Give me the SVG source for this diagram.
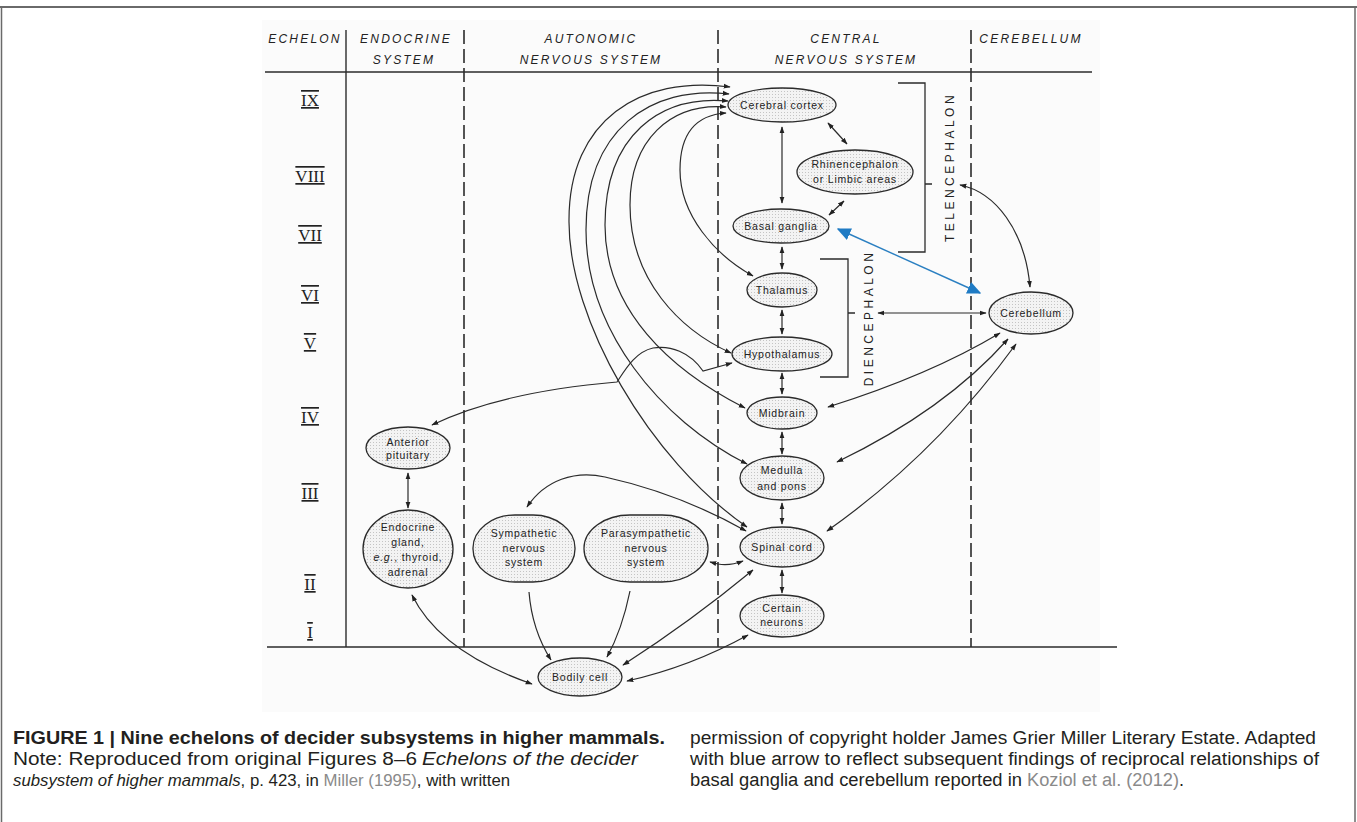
<svg xmlns="http://www.w3.org/2000/svg" width="1357" height="822" viewBox="0 0 1357 822">
<style>
.hd{font-family:"Liberation Sans",Arial,sans-serif;font-style:italic;font-size:12px;letter-spacing:2.2px;fill:#222;text-anchor:middle}
.rn{font-family:"Liberation Serif","Times New Roman",serif;font-size:17px;fill:#222;text-anchor:middle;text-decoration:underline overline}
.n{font-family:"Liberation Sans",Arial,sans-serif;font-size:10.5px;letter-spacing:0.8px;fill:#222;text-anchor:middle}
.sh{fill:url(#dots);stroke:#2b2b2b;stroke-width:1.3}
.c{fill:none;stroke:#2b2b2b;stroke-width:1.2}
.ln{fill:none;stroke:#2b2b2b;stroke-width:1.4}
.dash{fill:none;stroke:#2b2b2b;stroke-width:1.6;stroke-dasharray:14 5}
.br{fill:none;stroke:#2b2b2b;stroke-width:1.3}
.vt{font-family:"Liberation Sans",Arial,sans-serif;font-size:12px;letter-spacing:3.5px;fill:#222;text-anchor:middle}
.cap{font-family:"Liberation Sans",Arial,sans-serif;font-size:18px;fill:#231f20}
.cap3{font-family:"Liberation Sans",Arial,sans-serif;font-size:16.8px;fill:#231f20}
.it{font-style:italic}
.lk{fill:#8a8a8a}
</style>
<defs>
<pattern id="dots" width="3" height="3" patternUnits="userSpaceOnUse"><rect width="3" height="3" fill="#f3f3f3"/><rect x="1" y="1" width="1" height="1" fill="#c4c4c4"/></pattern>
<marker id="ah" viewBox="0 0 10 10" refX="9" refY="5" markerWidth="7" markerHeight="7" orient="auto-start-reverse" markerUnits="userSpaceOnUse"><path d="M0,1.5 L10,5 L0,8.5 z" fill="#222"/></marker>
<marker id="bh" viewBox="0 0 10 10" refX="9" refY="5" markerWidth="14" markerHeight="14" orient="auto-start-reverse" markerUnits="userSpaceOnUse"><path d="M0,0.5 L10,5 L0,9.5 z" fill="#1f7bc4"/></marker>
</defs>
<rect width="1357" height="822" fill="#fff"/>
<rect x="262" y="20" width="838" height="692" fill="#fbfbfb"/>
<g id="frame">
<line x1="0" y1="7" x2="1357" y2="7" stroke="#6a6a6a" stroke-width="2"/>
<line x1="1.5" y1="7" x2="1.5" y2="822" stroke="#6a6a6a" stroke-width="1.5"/>
<line x1="1355" y1="7" x2="1355" y2="822" stroke="#6a6a6a" stroke-width="1.5"/>
</g>
<g id="grid">
<line x1="265" y1="72" x2="1092" y2="72" class="ln"/>
<line x1="267" y1="647" x2="1117" y2="647" class="ln"/>
<line x1="346" y1="30" x2="346" y2="647" class="ln"/>
<line x1="464" y1="30" x2="464" y2="647" class="dash"/>
<line x1="718" y1="30" x2="718" y2="647" class="dash"/>
<line x1="971" y1="30" x2="971" y2="647" class="dash"/>
</g>
<g id="headers">
<text class="hd" x="305" y="43">ECHELON</text>
<text class="hd" x="406" y="43">ENDOCRINE</text>
<text class="hd" x="404" y="64">SYSTEM</text>
<text class="hd" x="591" y="43">AUTONOMIC</text>
<text class="hd" x="591" y="64">NERVOUS SYSTEM</text>
<text class="hd" x="846" y="43">CENTRAL</text>
<text class="hd" x="846" y="64">NERVOUS SYSTEM</text>
<text class="hd" x="1031" y="43">CEREBELLUM</text>
</g>
<g id="echelons">
<text class="rn" x="310" y="106">IX</text>
<text class="rn" x="310" y="182">VIII</text>
<text class="rn" x="310" y="241">VII</text>
<text class="rn" x="310" y="301">VI</text>
<text class="rn" x="310" y="349">V</text>
<text class="rn" x="310" y="423">IV</text>
<text class="rn" x="310" y="499">III</text>
<text class="rn" x="310" y="590">II</text>
<text class="rn" x="310" y="638">I</text>
</g>
<g id="telencephalon">
<path class="br" d="M898,83 H925 V252 H898 M925,184 H932"/>
<text class="vt" transform="translate(954,167) rotate(-90)">TELENCEPHALON</text>
</g>
<g id="diencephalon">
<path class="br" d="M820,259 H848 V377 H820 M848,313 H855"/>
<text class="vt" transform="translate(873,318) rotate(-90)">DIENCEPHALON</text>
</g>
<g id="connectors">
<path class="c" marker-start="url(#ah)" marker-end="url(#ah)" d="M726,113 C695,115 680,135 680,170 C680,215 715,255 753,276"/>
<path class="c" marker-start="url(#ah)" marker-end="url(#ah)" d="M726,107 C670,103 630,140 630,205 C630,280 680,330 731,353"/>
<path class="c" marker-start="url(#ah)" marker-end="url(#ah)" d="M728,101 C660,95 605,135 605,225 C605,310 670,370 745,408"/>
<path class="c" marker-start="url(#ah)" marker-end="url(#ah)" d="M729,94 C650,85 586,130 586,230 C586,330 660,420 747,464"/>
<path class="c" marker-start="url(#ah)" marker-end="url(#ah)" d="M730,87 C640,75 569,120 569,220 C568,320 650,460 747,527"/>
<path class="c" marker-start="url(#ah)" marker-end="url(#ah)" d="M782,127 V203"/>
<path class="c" marker-start="url(#ah)" marker-end="url(#ah)" d="M828,123 L847,144"/>
<path class="c" marker-start="url(#ah)" marker-end="url(#ah)" d="M844,201 L829,215"/>
<path class="c" marker-start="url(#ah)" marker-end="url(#ah)" d="M782,247 V269"/>
<path class="c" marker-start="url(#ah)" marker-end="url(#ah)" d="M782,310 V334"/>
<path class="c" marker-start="url(#ah)" marker-end="url(#ah)" d="M782,373 V394"/>
<path class="c" marker-start="url(#ah)" marker-end="url(#ah)" d="M782,432 V454"/>
<path class="c" marker-start="url(#ah)" marker-end="url(#ah)" d="M782,503 V524"/>
<path class="c" marker-start="url(#ah)" marker-end="url(#ah)" d="M782,570 V593"/>
<path class="c" marker-start="url(#ah)" marker-end="url(#ah)" d="M878,313 H986"/>
<path class="c" marker-start="url(#ah)" marker-end="url(#ah)" d="M960,185 C995,192 1025,230 1030,287"/>
<path class="c" marker-start="url(#ah)" marker-end="url(#ah)" d="M1000,333 Q930,375 828,407"/>
<path class="c" marker-start="url(#ah)" marker-end="url(#ah)" d="M1008,339 Q945,410 837,462"/>
<path class="c" marker-start="url(#ah)" marker-end="url(#ah)" d="M1016,344 Q935,455 827,531"/>
<path class="c" marker-start="url(#ah)" marker-end="url(#ah)" d="M432,425 Q500,392 617,382 C625,370 635,352 653,348 C670,345 690,352 703,371 L732,363"/>
<path class="c" marker-start="url(#ah)" marker-end="url(#ah)" d="M408,473 V508"/>
<path class="c" marker-start="url(#ah)" marker-end="url(#ah)" d="M412,595 Q440,652 532,684"/>
<path class="c" marker-start="url(#ah)" marker-end="url(#ah)" d="M527,507 C545,480 575,470 605,477 C650,487 700,505 746,531"/>
<path class="c" marker-end="url(#ah)" d="M529,592 Q532,630 551,660"/>
<path class="c" marker-end="url(#ah)" d="M630,591 Q622,630 607,657"/>
<path class="c" marker-start="url(#ah)" marker-end="url(#ah)" d="M710,562 L718,564 Q730,566 743,561"/>
<path class="c" marker-start="url(#ah)" marker-end="url(#ah)" d="M753,570 Q690,622 623,665"/>
<path class="c" marker-start="url(#ah)" marker-end="url(#ah)" d="M748,635 Q690,667 627,681"/>
<path fill="none" stroke="#2a7fc1" stroke-width="1.4" marker-start="url(#bh)" marker-end="url(#bh)" d="M838,229 L980,293"/>
</g>
<g id="cerebral-cortex"><ellipse class="sh" cx="782" cy="105" rx="54" ry="17"/><text class="n" x="782" y="109">Cerebral cortex</text></g>
<g id="rhinencephalon"><ellipse class="sh" cx="855" cy="172" rx="58" ry="22"/><text class="n" x="855" y="168">Rhinencephalon</text><text class="n" x="855" y="183">or Limbic areas</text></g>
<g id="basal-ganglia"><ellipse class="sh" cx="781" cy="226" rx="48" ry="17"/><text class="n" x="781" y="230">Basal ganglia</text></g>
<g id="thalamus"><ellipse class="sh" cx="782" cy="290" rx="35" ry="17"/><text class="n" x="782" y="294">Thalamus</text></g>
<g id="hypothalamus"><ellipse class="sh" cx="782" cy="354" rx="50" ry="17"/><text class="n" x="782" y="358">Hypothalamus</text></g>
<g id="midbrain"><ellipse class="sh" cx="782" cy="413" rx="35" ry="16"/><text class="n" x="782" y="417">Midbrain</text></g>
<g id="medulla"><ellipse class="sh" cx="782" cy="478" rx="42" ry="22"/><text class="n" x="782" y="474">Medulla</text><text class="n" x="782" y="490">and pons</text></g>
<g id="spinal-cord"><ellipse class="sh" cx="782" cy="547" rx="42" ry="20"/><text class="n" x="782" y="551">Spinal cord</text></g>
<g id="certain-neurons"><ellipse class="sh" cx="782" cy="616" rx="42" ry="21"/><text class="n" x="782" y="612">Certain</text><text class="n" x="782" y="626">neurons</text></g>
<g id="cerebellum"><ellipse class="sh" cx="1031" cy="313" rx="42" ry="21"/><text class="n" x="1031" y="317">Cerebellum</text></g>
<g id="anterior-pituitary"><ellipse class="sh" cx="408" cy="448" rx="42" ry="21"/><text class="n" x="408" y="446">Anterior</text><text class="n" x="408" y="459">pituitary</text></g>
<g id="endocrine-gland"><ellipse class="sh" cx="408" cy="549" rx="45" ry="39"/><text class="n" x="408" y="531">Endocrine</text><text class="n" x="408" y="546">gland,</text><text class="n" x="408" y="561"><tspan font-style="italic">e.g.</tspan>, thyroid,</text><text class="n" x="408" y="576">adrenal</text></g>
<g id="sympathetic"><rect class="sh" x="473" y="515" width="102" height="67" rx="42" ry="33"/><text class="n" x="524" y="537">Sympathetic</text><text class="n" x="524" y="552">nervous</text><text class="n" x="524" y="566">system</text></g>
<g id="parasympathetic"><rect class="sh" x="584" y="515" width="124" height="67" rx="46" ry="33"/><text class="n" x="646" y="537">Parasympathetic</text><text class="n" x="646" y="552">nervous</text><text class="n" x="646" y="566">system</text></g>
<g id="bodily-cell"><ellipse class="sh" cx="580" cy="677" rx="42" ry="19"/><text class="n" x="580" y="681">Bodily cell</text></g>
<g id="caption">
<text class="cap" x="13" y="744" font-weight="bold" textLength="652" lengthAdjust="spacingAndGlyphs">FIGURE 1 | Nine echelons of decider subsystems in higher mammals.</text>
<text class="cap" x="13" y="765" textLength="404" lengthAdjust="spacingAndGlyphs">Note: Reproduced from original Figures 8–6</text>
<text class="cap it" x="422" y="765" textLength="216" lengthAdjust="spacingAndGlyphs">Echelons of the decider</text>
<text class="cap3" x="13" y="786"><tspan class="it">subsystem of higher mammals</tspan>, p. 423, in <tspan class="lk">Miller (1995)</tspan>, with written</text>
<text class="cap" x="690" y="744" textLength="626" lengthAdjust="spacingAndGlyphs">permission of copyright holder James Grier Miller Literary Estate. Adapted</text>
<text class="cap" x="690" y="765" textLength="629" lengthAdjust="spacingAndGlyphs">with blue arrow to reflect subsequent findings of reciprocal relationships of</text>
<text class="cap" x="690" y="786" textLength="332" lengthAdjust="spacingAndGlyphs">basal ganglia and cerebellum reported in</text>
<text class="cap lk" x="1027" y="786" textLength="152" lengthAdjust="spacingAndGlyphs">Koziol et al. (2012)</text>
<text class="cap" x="1179" y="786">.</text>
</g>
</svg>
